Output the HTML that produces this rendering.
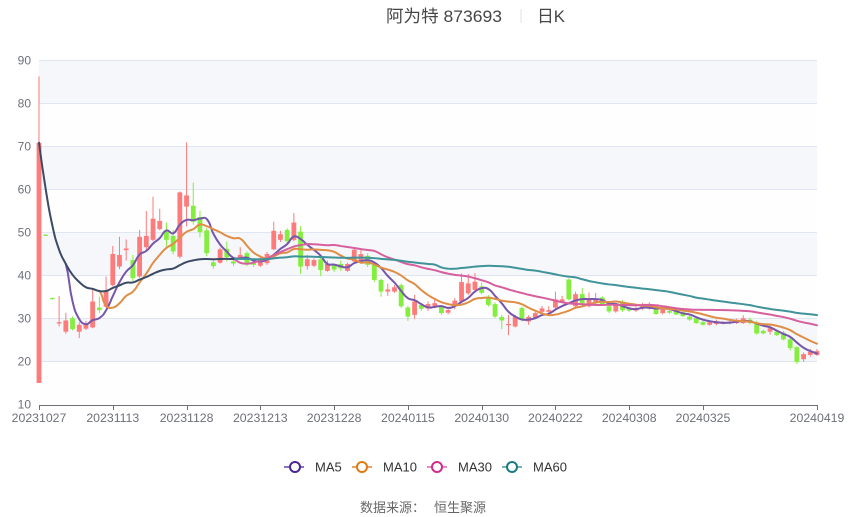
<!DOCTYPE html>
<html>
<head>
<meta charset="utf-8">
<style>
html,body{margin:0;padding:0;background:#ffffff;}
body{width:850px;height:517px;overflow:hidden;}
svg{display:block;}
text{font-family:"Liberation Sans","Noto Sans CJK SC",sans-serif;}
</style>
</head>
<body>
<svg id="c" width="850" height="517" viewBox="0 0 850 517" xmlns="http://www.w3.org/2000/svg">
  <!-- title -->
  <text x="386" y="22" font-size="17" fill="#464646" textLength="116" lengthAdjust="spacingAndGlyphs">阿为特 873693</text>
  <line x1="521" y1="9" x2="521" y2="23" stroke="#e3e3e3" stroke-width="1"/>
  <text x="537" y="22" font-size="17" fill="#464646" textLength="28" lengthAdjust="spacingAndGlyphs">日K</text>

  <!-- split areas -->
  <g id="bands"></g>
  <!-- grid lines -->
  <g stroke="#e0e6f1" stroke-width="1">
    <line x1="39" x2="817" y1="60.5" y2="60.5"/>
    <line x1="39" x2="817" y1="103.5" y2="103.5"/>
    <line x1="39" x2="817" y1="146.5" y2="146.5"/>
    <line x1="39" x2="817" y1="189.5" y2="189.5"/>
    <line x1="39" x2="817" y1="232.5" y2="232.5"/>
    <line x1="39" x2="817" y1="275.5" y2="275.5"/>
    <line x1="39" x2="817" y1="318.5" y2="318.5"/>
    <line x1="39" x2="817" y1="361.5" y2="361.5"/>
  </g>
  <!-- y labels -->
  <g font-size="12" fill="#6e7079" text-anchor="end">
    <text x="31" y="64.5">90</text>
    <text x="31" y="107.5">80</text>
    <text x="31" y="150.5">70</text>
    <text x="31" y="193.5">60</text>
    <text x="31" y="236.5">50</text>
    <text x="31" y="279.5">40</text>
    <text x="31" y="322.5">30</text>
    <text x="31" y="365.5">20</text>
    <text x="31" y="408.5">10</text>
  </g>
  <!-- x axis -->
  <line x1="39" x2="817" y1="405.5" y2="405.5" stroke="#6e7079" stroke-width="1"/>
  <g id="ticks" stroke="#6e7079" stroke-width="1"></g>
  <g font-size="12.3" fill="#6e7079" text-anchor="middle">
    <text x="39" y="422">20231027</text>
    <text x="112.8" y="422">20231113</text>
    <text x="186.6" y="422">20231128</text>
    <text x="260.3" y="422">20231213</text>
    <text x="334.1" y="422">20231228</text>
    <text x="407.9" y="422">20240115</text>
    <text x="481.7" y="422">20240130</text>
    <text x="555.4" y="422">20240222</text>
    <text x="629.2" y="422">20240308</text>
    <text x="703" y="422">20240325</text>
    <text x="817" y="422">20240419</text>
  </g>

  <g id="candles"></g>
  <g id="lines" fill="none" stroke-width="2" stroke-linejoin="round" stroke-linecap="round"></g>

  <!-- legend -->
  <g>
    <line x1="284" x2="304" y1="467" y2="467" stroke="#8b73c4" stroke-width="2"/>
    <circle cx="295" cy="467" r="5" fill="#fff" stroke="#4a2596" stroke-width="2"/>
    <text x="315" y="471.5" font-size="13" fill="#333">MA5</text>

    <line x1="352" x2="372" y1="467" y2="467" stroke="#eba35f" stroke-width="2"/>
    <circle cx="362" cy="467" r="5" fill="#fff" stroke="#e07a16" stroke-width="2"/>
    <text x="383" y="471.5" font-size="13" fill="#333">MA10</text>

    <line x1="427" x2="447" y1="467" y2="467" stroke="#e48bc2" stroke-width="2"/>
    <circle cx="437" cy="467" r="5" fill="#fff" stroke="#d12b8c" stroke-width="2"/>
    <text x="458" y="471.5" font-size="13" fill="#333">MA30</text>

    <line x1="502" x2="522" y1="467" y2="467" stroke="#78b4b7" stroke-width="2"/>
    <circle cx="512" cy="467" r="5" fill="#fff" stroke="#177a80" stroke-width="2"/>
    <text x="533" y="471.5" font-size="13" fill="#333">MA60</text>
  </g>

  <!-- footer -->
  <text x="360" y="512" font-size="13" fill="#666">数据来源：</text>
  <text x="434" y="512" font-size="13" fill="#666">恒生聚源</text>
</svg>
<script>
(function(){
var NS="http://www.w3.org/2000/svg";
var D=[
[15.1,70.8,15.1,86.2],[49.5,49.3,49.2,49.6],[34.8,34.6,34.5,34.9],[28.9,29.2,28.2,35.3],[27.0,29.6,26.5,31.4],
[30.1,27.6,27.3,30.5],[27.0,28.6,25.5,29.2],[27.7,28.6,27.4,29.5],[28.0,34.0,27.8,36.8],[32.6,32.0,31.3,35.1],
[32.8,36.5,32.5,39.8],[37.8,45.0,37.5,46.9],[42.1,44.8,41.5,49.0],[45.9,46.3,43.5,48.4],[43.6,39.4,38.7,44.8],
[39.8,49.0,39.5,50.6],[46.6,49.2,46.0,55.0],[48.3,53.2,48.0,58.3],[50.8,52.7,50.5,55.5],[50.2,48.3,46.7,52.3],
[49.2,45.6,44.9,50.6],[44.4,59.3,44.0,59.5],[56.0,58.6,51.4,70.9],[56.2,52.5,51.8,61.6],[53.6,50.1,48.9,55.0],
[50.5,45.2,44.5,51.0],[43.1,42.2,41.6,43.6],[43.0,46.1,42.8,46.5],[46.2,44.3,43.3,47.9],[43.3,42.8,42.2,43.8],
[44.0,44.8,43.6,46.6],[45.2,42.9,42.2,45.6],[42.9,42.5,42.0,43.3],[42.3,43.5,42.0,44.2],[42.9,45.0,42.5,45.5],
[46.1,50.4,45.9,52.5],[48.3,49.6,47.8,50.4],[50.6,48.0,47.5,51.0],[48.3,52.3,48.0,54.5],[50.2,42.1,40.4,51.5],
[42.2,43.8,41.4,44.8],[42.3,43.6,42.0,44.0],[43.8,41.3,39.9,44.4],[41.1,42.7,40.9,43.5],[42.4,41.4,40.9,42.8],
[42.7,41.7,41.0,43.5],[41.1,42.7,40.9,43.0],[43.3,46.0,43.0,46.5],[43.3,45.0,42.7,46.0],[44.6,42.5,42.0,45.2],
[42.5,39.0,38.5,42.8],[39.0,36.3,35.1,39.3],[36.3,36.8,35.3,38.1],[36.3,37.3,36.0,37.8],[37.8,32.9,32.5,38.2],
[32.6,30.5,29.5,33.0],[30.9,34.0,29.9,35.5],[33.2,32.3,31.8,33.6],[32.4,33.4,31.8,34.0],[33.0,33.6,32.4,34.7],
[32.7,31.3,30.9,33.0],[31.4,32.0,31.0,32.5],[32.9,34.2,32.2,34.8],[34.0,38.5,33.8,40.5],[35.9,38.2,35.5,40.4],
[36.7,38.6,36.4,40.6],[37.5,36.0,35.6,38.4],[35.1,33.2,32.8,35.5],[33.4,30.5,30.2,33.8],[30.4,29.6,27.6,30.9],
[28.5,28.8,26.2,30.9],[28.2,30.5,28.0,30.9],[32.5,29.7,29.4,32.8],[29.4,30.4,28.6,30.8],[30.2,31.3,29.9,31.6],
[31.6,32.4,31.3,33.0],[31.6,32.0,31.2,32.9],[32.6,34.5,31.9,36.3],[34.0,34.5,33.8,35.3],[39.1,34.5,34.2,39.4],
[32.9,35.7,32.4,36.3],[35.7,33.6,33.0,37.1],[32.9,34.5,32.6,36.1],[33.7,34.5,33.4,36.0],[34.9,33.3,33.0,35.2],
[32.9,31.7,31.3,33.2],[31.7,33.2,31.4,33.6],[34.0,32.0,31.6,34.3],[32.4,31.9,31.6,32.8],[31.9,32.4,31.6,32.8],
[32.5,33.3,32.0,33.7],[32.4,33.2,32.1,33.8],[32.7,31.1,30.9,33.0],[31.3,32.2,31.0,32.5],[31.8,31.4,31.1,32.1],
[31.9,31.0,30.8,32.2],[31.5,30.6,30.4,31.8],[30.5,29.8,29.5,30.9],[30.1,29.0,28.8,30.4],[29.2,28.6,28.4,29.5],
[28.6,29.2,28.4,29.5],[28.8,29.4,28.5,29.8],[28.9,29.1,28.7,29.4],[28.9,29.2,28.7,29.5],[29.0,29.6,28.8,30.0],
[29.0,30.1,28.8,30.8],[29.8,29.0,28.7,30.3],[29.0,26.6,26.3,29.5],[27.2,26.6,26.4,27.5],[27.0,27.8,26.3,28.8],
[27.0,26.2,26.0,27.3],[26.8,25.2,25.0,27.2],[25.2,23.2,22.6,25.6],[23.4,20.0,19.5,23.6],[20.6,21.8,20.0,22.2],
[21.6,22.3,21.2,23.0],[21.6,22.5,21.4,23.0]
];
var X0=39, DX=778/116;
function Y(v){return 405-(v-10)*4.3125;}
function X(i){return X0+DX*i;}
function el(tag,attrs,parent){var e=document.createElementNS(NS,tag);for(var k in attrs)e.setAttribute(k,attrs[k]);parent.appendChild(e);return e;}

// bands
var bands=document.getElementById('bands');
for(var k=0;k<8;k++){
  var vLo=10+k*10, vHi=vLo+10;
  el('rect',{x:39,y:Y(vHi),width:778,height:Y(vLo)-Y(vHi),fill:(k%2==0)?'#fefefe':'#f5f7fb'},bands);
}
// ticks
var ticks=document.getElementById('ticks');
[0,11,22,33,44,55,66,77,88,99,116].forEach(function(i){
  var x=Math.round(X(i))+0.5;
  el('line',{x1:x,x2:x,y1:405,y2:410},ticks);
});
// candles
var cg=document.getElementById('candles');
D.forEach(function(d,i){
  var o=d[0],c=d[1],l=d[2],h=d[3];
  var x=X(i); var up=c>=o; var col=up?'#fd7b7b':'#84ee3e';
  el('line',{x1:x,x2:x,y1:Y(h),y2:Y(l),stroke:col,'stroke-width':1},cg);
  var yt=Y(Math.max(o,c)), yb=Y(Math.min(o,c));
  el('rect',{x:x-2.4,y:yt,width:4.8,height:Math.max(yb-yt,1.2),fill:col},cg);
});
// MAs
function ma(n){var out=[];for(var i=0;i<D.length;i++){var s=0,cnt=0;for(var j=Math.max(0,i-n+1);j<=i;j++){s+=D[j][1];cnt++;}out.push([X(i),Y(s/cnt)]);}return out;}
function ctrl(P,i){
  if(i<=0||i>=P.length-1) return [P[i],P[i]];
  var p=P[i],a=P[i-1],b=P[i+1];
  var vx=b[0]-a[0], vy=b[1]-a[1];
  var d0=Math.hypot(p[0]-a[0],p[1]-a[1]), d1=Math.hypot(b[0]-p[0],b[1]-p[1]);
  var r=(d0+d1)>0?d1/(d0+d1):0.5, sm=0.5;
  return [[p[0]-vx*sm*(1-r),p[1]-vy*sm*(1-r)],[p[0]+vx*sm*r,p[1]+vy*sm*r]];
}
function f(p){return p[0].toFixed(2)+','+p[1].toFixed(2);}
function path(P,from,to){
  var d='M'+f(P[from]);
  for(var i=from;i<to;i++){
    var c1=ctrl(P,i)[1], c2=ctrl(P,i+1)[0];
    d+='C'+f(c1)+' '+f(c2)+' '+f(P[i+1]);
  }
  return d;
}
var lg=document.getElementById('lines');
var m5=ma(5), m10=ma(10), m30=ma(30), m60=ma(60);
var N=D.length-1;
el('path',{d:path(m5,4,N),stroke:'#7556ab'},lg);
el('path',{d:path(m10,9,N),stroke:'#e08d45'},lg);
el('path',{d:path(m30,29,N),stroke:'#d6609e'},lg);
el('path',{d:path(m60,29,N),stroke:'#3f9399'},lg);
el('path',{d:path(m60,0,29),stroke:'#3c4a66'},lg);
})();
</script>
</body>
</html>
